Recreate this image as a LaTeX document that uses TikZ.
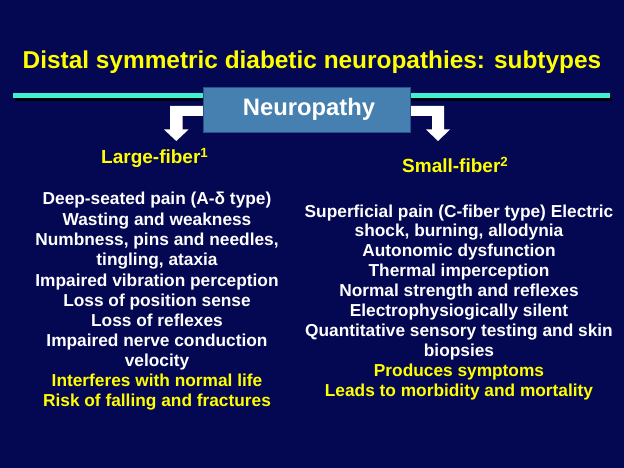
\documentclass[tikz,border=0pt]{standalone}
\usepackage{fontspec}
\setmainfont{Liberation Sans}
\definecolor{bgblue}{RGB}{4,8,82}
\definecolor{cyanline}{RGB}{64,240,208}
\definecolor{boxblue}{RGB}{70,128,176}
\definecolor{boxedge}{RGB}{40,80,140}
\definecolor{ttlyellow}{RGB}{255,255,0}
\tikzset{
  bodytext/.style={anchor=base, inner sep=0pt, text=white, font=\fontsize{17.3}{20}\selectfont\bfseries},
  yelltext/.style={bodytext, text=ttlyellow},
  headtext/.style={anchor=base west, inner sep=0pt, text=ttlyellow, font=\fontsize{19}{22}\selectfont\bfseries},
  titletext/.style={anchor=base, inner sep=0pt, text=ttlyellow, font=\fontsize{24.4}{28}\selectfont\bfseries},
  blockarrow/.style={fill=white, draw=none},
}
\begin{document}
\begin{tikzpicture}[x=1pt,y=-1pt]
\useasboundingbox (0,0) rectangle (624,468);
\fill[bgblue] (0,0) rectangle (624,468);
% title
\node[titletext] (title) at (312,69) {Distal symmetric diabetic neuropathies: subtypes};
% cyan rule with shadow
\fill[black!85!bgblue] (15,97) rectangle (612,101);
\fill[cyanline] (13,93) rectangle (610,98);
% arrows
\fill[blockarrow] (203,106) -- (170,106) -- (170,129.5) -- (164,129.5) -- (176.3,141) -- (188.5,129.5) -- (182.5,129.5) -- (182.5,116) -- (203,116) -- cycle;
\fill[blockarrow] (410,106) -- (444,106) -- (444,129.5) -- (450,129.5) -- (438,141) -- (426,129.5) -- (432,129.5) -- (432,116) -- (410,116) -- cycle;
% box
\node[draw=boxedge, fill=boxblue, line width=0.6pt, minimum width=207pt, minimum height=45pt, inner sep=0pt] (box) at (306.5,109.5) {};
\node[anchor=base, inner sep=0pt, text=white, font=\fontsize{23.8}{28}\selectfont\bfseries] (neuro) at (309,116) {Neuropathy};
% headings
\node[headtext] (large) at (101,164) {Large-fiber\textsuperscript{1}};
\node[headtext] (small) at (402,172.7) {Small-fiber\textsuperscript{2}};
% left column
\node[bodytext] (l1) at (157,204.5) {Deep-seated pain (A-δ type)};
\node[bodytext] (l2) at (157,225.5) {Wasting and weakness};
\node[bodytext] (l3) at (157,245.5) {Numbness, pins and needles,};
\node[bodytext] (l4) at (157,265.5) {tingling, ataxia};
\node[bodytext] (l5) at (157,286) {Impaired vibration perception};
\node[bodytext] (l6) at (157,306) {Loss of position sense};
\node[bodytext] (l7) at (157,326) {Loss of reflexes};
\node[bodytext] (l8) at (157,346) {Impaired nerve conduction};
\node[bodytext] (l9) at (157,366) {velocity};
\node[yelltext] (l10) at (157,386) {Interferes with normal life};
\node[yelltext] (l11) at (157,406) {Risk of falling and fractures};
% right column
\node[bodytext] (r1) at (459,217) {Superficial pain (C-fiber type) Electric};
\node[bodytext] (r2) at (459,236.8) {shock, burning, allodynia};
\node[bodytext] (r3) at (459,256.7) {Autonomic dysfunction};
\node[bodytext] (r4) at (459,276.5) {Thermal imperception};
\node[bodytext] (r5) at (459,296.5) {Normal strength and reflexes};
\node[bodytext] (r6) at (459,316.5) {Electrophysiogically silent};
\node[bodytext] (r7) at (459,336.5) {Quantitative sensory testing and skin};
\node[bodytext] (r8) at (459,356.3) {biopsies};
\node[yelltext] (r9) at (459,376.5) {Produces symptoms};
\node[yelltext] (r10) at (459,396.5) {Leads to morbidity and mortality};
\end{tikzpicture}
\end{document}
